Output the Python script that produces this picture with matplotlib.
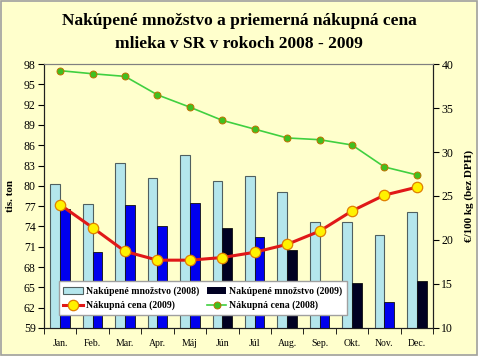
import matplotlib
matplotlib.use("Agg")
import matplotlib.pyplot as plt
import numpy as np
from matplotlib.patches import Rectangle

plt.rcParams["font.family"] = ["Liberation Serif", "DejaVu Serif"]

months = ["Jan.", "Feb.", "Mar.", "Apr.", "Máj", "Jún", "Júl", "Aug.",
          "Sep.", "Okt.", "Nov.", "Dec."]
qty_2008 = [80.3, 77.3, 83.4, 81.1, 84.6, 80.7, 81.4, 79.1, 74.6, 74.6, 72.8, 76.1]
qty_2009 = [76.6, 70.2, 77.2, 74.1, 77.5, 73.7, 72.5, 70.5, 66.0, 65.6, 62.8, 65.9]
price_2009 = [24.0, 21.4, 18.7, 17.7, 17.7, 18.0, 18.6, 19.5, 21.0, 23.3, 25.1, 26.0]
price_2008 = [39.25, 38.9, 38.6, 36.5, 35.1, 33.6, 32.6, 31.6, 31.4, 30.8, 28.3, 27.4]
# the 2009 bars are drawn blue in some months and black in others
dark_months = ["Jún", "Aug.", "Okt.", "Dec."]

BG = "#FFFFCC"
fig = plt.figure(figsize=(4.78, 3.56), dpi=100, facecolor=BG)
fig.patches.append(Rectangle((0.002, 0.003), 0.995, 0.994, transform=fig.transFigure,
                             fill=False, edgecolor="#A0A0A0", lw=1.2))
ax = fig.add_axes([0.092, 0.079, 0.814, 0.741], facecolor=BG)
ax2 = ax.twinx()

x = np.arange(len(months))
w = 0.3
c09 = ["#000022" if m in dark_months else "#0000EE" for m in months]
ax.bar(x - w / 2, [v - 59 for v in qty_2008], w, bottom=59, color="#B4E6EC",
       edgecolor="#506060", lw=0.8, label="Nakúpené množstvo (2008)", zorder=2)
ax.bar(x + w / 2, [v - 59 for v in qty_2009], w, bottom=59, color=c09,
       edgecolor="#101010", lw=0.6, zorder=2)
ax.bar([0], [0], 0, color="#000022", label="Nakúpené množstvo (2009)")

ax2.plot(x, price_2009, color="#E01818", lw=2.2, marker="o", ms=7.5,
         mfc="#FFF200", mec="#E08000", mew=0.9, label="Nákupná cena (2009)", zorder=3)
ax2.plot(x, price_2008, color="#40D040", lw=1.2, marker="o", ms=5,
         mfc="#40C020", mec="#C07000", mew=0.7, label="Nákupná cena (2008)", zorder=3)

ax.set_xlim(-0.5, 11.5)
ax.set_ylim(59, 98)
ax.set_yticks(np.arange(59, 99, 3))
ax2.set_ylim(10, 40)
ax2.set_yticks(np.arange(10, 41, 5))

ax.set_xticks(x)
ax.set_xticklabels(months, fontsize=7)
ax.tick_params(axis="x", length=0, pad=8)
ax.set_xticks(np.arange(-0.5, 12, 1), minor=True)
ax.tick_params(axis="x", which="minor", length=4, direction="out")
ax.tick_params(axis="y", labelsize=8.5, length=4, pad=2)
ax2.tick_params(axis="y", labelsize=8.5, length=4, pad=2)

for a in (ax, ax2):
    for s in a.spines.values():
        s.set_color("#808080")
        s.set_linewidth(0.8)
    a.spines["left"].set_color("#202020")
    a.spines["right"].set_color("#202020")
    a.spines["bottom"].set_color("#202020")

ax.set_ylabel("tis. ton", fontsize=8, fontweight="bold", labelpad=6)
ax2.set_ylabel("€/100 kg (bez DPH)", fontsize=8, fontweight="bold", labelpad=8)

fig.text(0.5, 0.94, "Nakúpené množstvo a priemerná nákupná cena",
         ha="center", va="center", fontsize=12.5, fontweight="bold")
fig.text(0.5, 0.875, "mlieka v SR v rokoch 2008 - 2009",
         ha="center", va="center", fontsize=12.5, fontweight="bold")

h1, l1 = ax.get_legend_handles_labels()
h2, l2 = ax2.get_legend_handles_labels()
handles = [h1[0], h2[0], h1[1], h2[1]]
labels = [l1[0], l2[0], l1[1], l2[1]]
leg = ax.legend(handles, labels, ncol=2, loc="lower left",
                bbox_to_anchor=(0.025, 0.03),
                prop={"weight": "bold", "size": 7}, frameon=True, fancybox=False,
                handlelength=2.0, handletextpad=0.3, columnspacing=0.8,
                borderpad=0.5, labelspacing=0.5)
leg.get_frame().set_edgecolor("#A0A0A0")
leg.get_frame().set_facecolor("white")
leg.get_frame().set_alpha(1)
leg.set_zorder(5)
ax.set_zorder(ax2.get_zorder() + 1)
ax.patch.set_visible(False)
ax2.patch.set_facecolor(BG)
# lines must sit above bars: move them onto the front axes
for ln in list(ax2.lines):
    ln.remove()
    ln.set_transform(ax2.transData)
    ax.add_artist(ln)

fig.savefig("out.png", dpi=100, facecolor=BG)
